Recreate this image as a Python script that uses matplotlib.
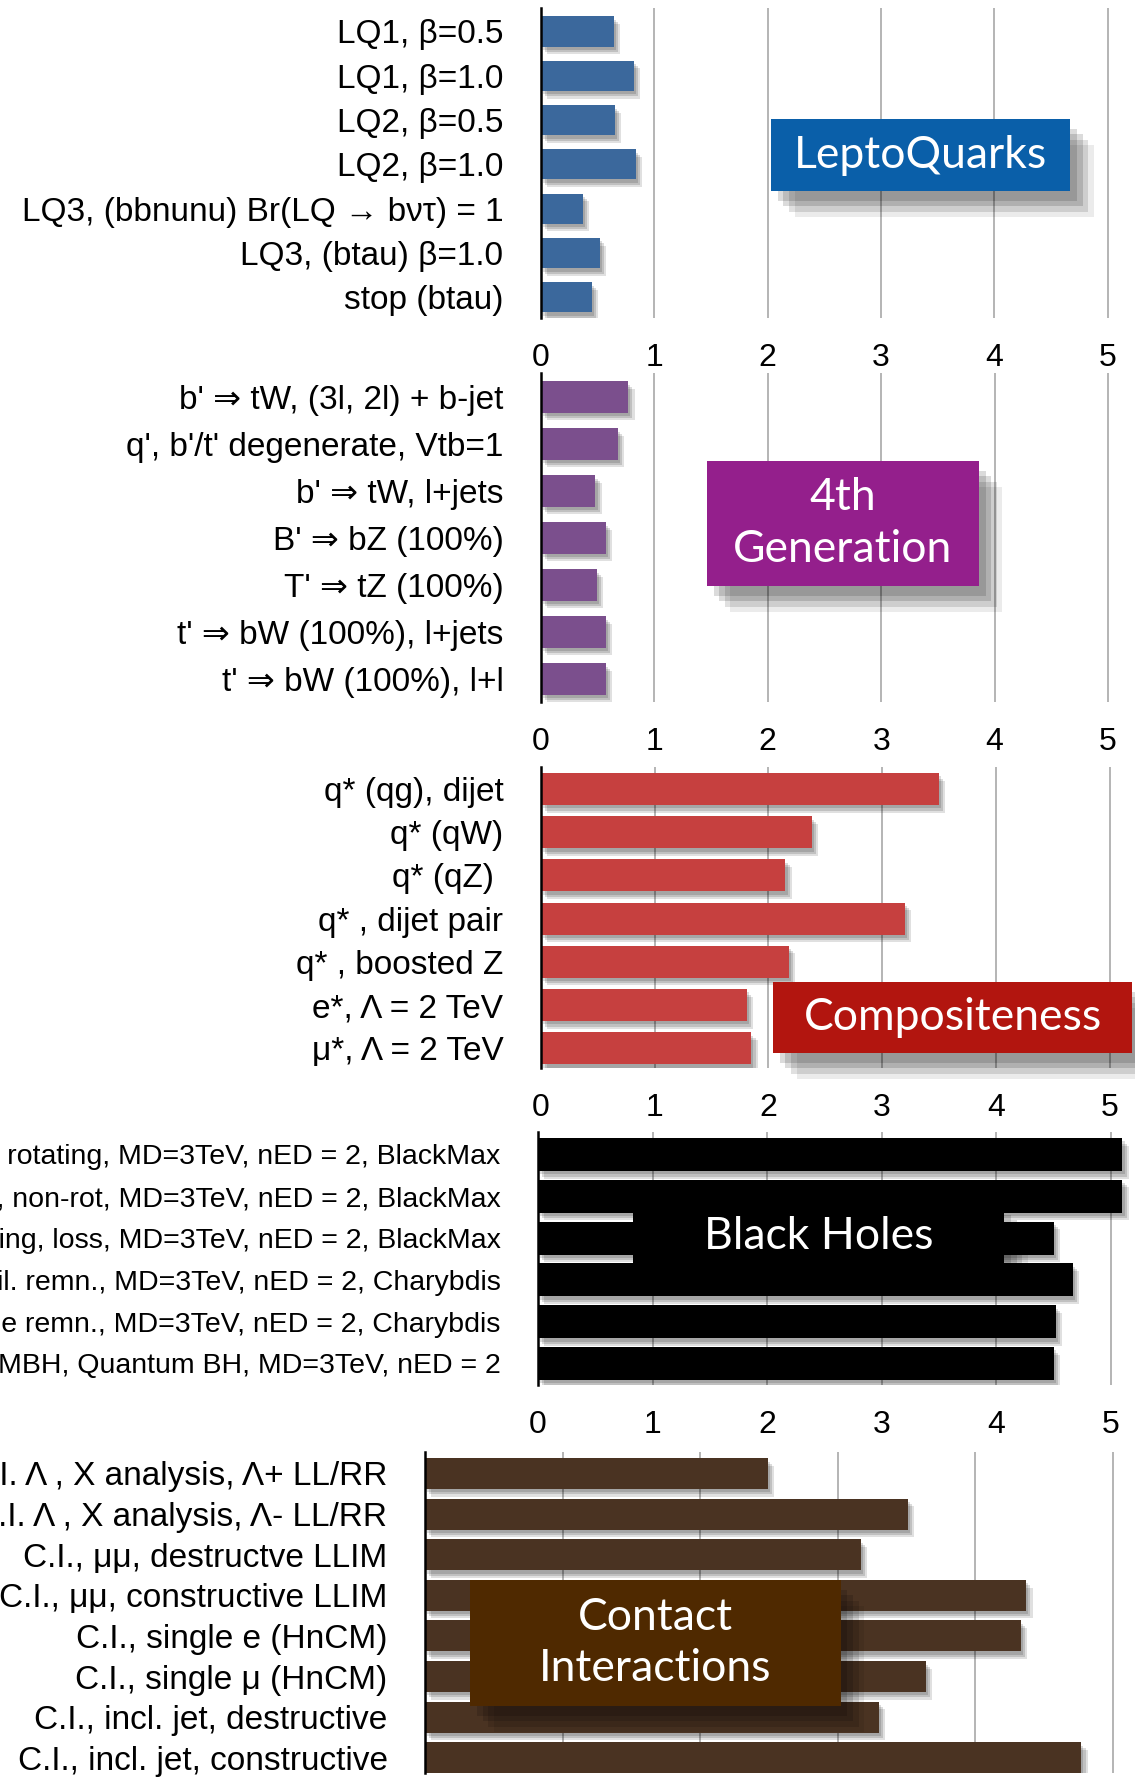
import matplotlib
matplotlib.use("Agg")
import matplotlib.pyplot as plt
import matplotlib.patheffects as pe
from matplotlib.patches import Rectangle

plt.rcParams["font.family"] = ["Liberation Sans", "DejaVu Sans"]

# ---- data (limits in TeV) ----
lq_labels = ["LQ1, β=0.5", "LQ1, β=1.0", "LQ2, β=0.5", "LQ2, β=1.0",
             "LQ3, (bbnunu) Br(LQ → bντ) = 1", "LQ3, (btau) β=1.0", "stop (btau)"]
lq_values = [0.64, 0.82, 0.65, 0.84, 0.37, 0.52, 0.45]

g4_labels = ["b' ⇒ tW, (3l, 2l) + b-jet", "q', b'/t' degenerate, Vtb=1", "b' ⇒ tW, l+jets",
             "B' ⇒ bZ (100%)", "T' ⇒ tZ (100%)", "t' ⇒ bW (100%), l+jets", "t' ⇒ bW (100%), l+l"]
g4_values = [0.77, 0.68, 0.48, 0.57, 0.49, 0.57, 0.57]

cp_labels = ["q* (qg), dijet", "q* (qW)", "q* (qZ) ", "q* , dijet pair", "q* , boosted Z",
             "e*, Λ = 2 TeV", "μ*, Λ = 2 TeV"]
cp_values = [3.50, 2.38, 2.15, 3.20, 2.18, 1.81, 1.85]

bh_labels = ["MBH, rotating, MD=3TeV, nED = 2, BlackMax", "MBH, non-rot, MD=3TeV, nED = 2, BlackMax",
             "MBH, boiling, loss, MD=3TeV, nED = 2, BlackMax", "MBH, boil. remn., MD=3TeV, nED = 2, Charybdis",
             "MBH, stable remn., MD=3TeV, nED = 2, Charybdis", "MBH, Quantum BH, MD=3TeV, nED = 2"]
bh_values = [5.10, 5.10, 4.50, 4.67, 4.52, 4.50]

ci_labels = ["C.I. Λ , X analysis, Λ+ LL/RR", "C.I. Λ , X analysis, Λ- LL/RR", "C.I., μμ, destructve LLIM",
             "C.I., μμ, constructive LLIM", "C.I., single e (HnCM)", "C.I., single μ (HnCM)",
             "C.I., incl. jet, destructive", "C.I., incl. jet, constructive"]
ci_values = [2.49, 3.51, 3.17, 4.37, 4.33, 3.64, 3.30, 4.77]

W, H = 1135, 1782
fig = plt.figure(figsize=(W / 100, H / 100), dpi=100)
fig.patch.set_facecolor("white")

bar_fx = [pe.SimplePatchShadow(offset=(1.5, -2.5), shadow_rgbFace="k", alpha=0.14),
          pe.SimplePatchShadow(offset=(3, -4), shadow_rgbFace="k", alpha=0.14),
          pe.SimplePatchShadow(offset=(4.5, -5.5), shadow_rgbFace="k", alpha=0.12),
          pe.Normal()]
box_fx = [pe.SimplePatchShadow(offset=(5, -7), shadow_rgbFace="k", alpha=0.14),
          pe.SimplePatchShadow(offset=(9, -11), shadow_rgbFace="k", alpha=0.14),
          pe.SimplePatchShadow(offset=(13, -15), shadow_rgbFace="k", alpha=0.12),
          pe.SimplePatchShadow(offset=(17, -19), shadow_rgbFace="k", alpha=0.08),
          pe.Normal()]


def panel(labels, values, bar_color, x0, unit, top, bottom, c0, dy, bar_h,
          label_size=24, show_ticks=True):
    n = len(labels)
    xmax = (W + 5 - x0) / unit
    ax = fig.add_axes([x0 / W, 1 - bottom / H, xmax * unit / W, (bottom - top) / H])
    gt = (c0 - top) / dy
    gb = (bottom - (c0 + (n - 1) * dy)) / dy
    bars = ax.barh(range(n), values, height=bar_h, color=bar_color, zorder=2)
    for b in bars:
        b.set_path_effects(bar_fx)
    ax.set_xlim(0, xmax)
    ax.set_ylim(n - 1 + gb, -gt)
    ax.set_yticks(range(n))
    ax.set_yticklabels(labels, fontsize=label_size)
    ax.set_xticks(range(6))
    for v in range(1, 6):
        ax.axvline(v, color="#a0a0a0", lw=1.1, zorder=0)
    ax.tick_params(axis="y", length=0, pad=27)
    ax.tick_params(axis="x", length=0, pad=18, labelsize=23, labelbottom=show_ticks)
    for s in ["top", "right", "bottom"]:
        ax.spines[s].set_visible(False)
    ax.spines["left"].set_linewidth(1.8)
    ax.spines["left"].set_zorder(3)
    ax.set_facecolor("none")
    return ax


def tag(ax, text, x0, x1, y0, y1, color, size=32):
    r = Rectangle((x0, y0), x1 - x0, y1 - y0, facecolor=color, edgecolor="none",
                  zorder=5, clip_on=False)
    r.set_path_effects(box_fx)
    ax.add_patch(r)
    ax.text((x0 + x1) / 2, (y0 + y1) / 2, text, color="white", fontsize=size,
            ha="center", va="center", zorder=6, linespacing=1.32,
            family=["Lato", "DejaVu Sans"])


# ---- LeptoQuarks ----
ax1 = panel(lq_labels, lq_values, "#3B689C", 541, 113.3, 8, 318, 31.5, 44.3, 0.68)
tag(ax1, "LeptoQuarks", 2.03, 4.67, (119 - 31.5) / 44.3, (191 - 31.5) / 44.3, "#0A5FA9")

# ---- 4th Generation ----
ax2 = panel(g4_labels, g4_values, "#7B4F8D", 541, 113.4, 373, 702, 397, 47, 0.66)
tag(ax2, "4th\nGeneration", 1.46, 3.86, (461 - 397) / 47, (586 - 397) / 47, "#941F8C")

# ---- Compositeness ----
ax3 = panel(cp_labels, cp_values, "#C6403F", 541, 113.7, 767, 1068, 789, 43.2, 0.74)
tag(ax3, "Compositeness", 2.04, 5.2, (982 - 789) / 43.2, (1053 - 789) / 43.2, "#B2150F")

# ---- Black Holes ----
ax4 = panel(bh_labels, bh_values, "#000000", 538, 114.6, 1132, 1385, 1154.5, 41.8, 0.79,
            label_size=20.5)
tag(ax4, "Black Holes", 0.83, 4.07, (1205 - 1154.5) / 41.8, (1268 - 1154.5) / 41.8, "#000000")

# ---- Contact Interactions ----
ax5 = panel(ci_labels, ci_values, "#4A3322", 425, 137.6, 1452, 1773, 1473.5, 40.6, 0.76,
            show_ticks=False)
tag(ax5, "Contact\nInteractions", 0.33, 3.02, (1580 - 1473.5) / 40.6, (1706 - 1473.5) / 40.6,
    "#4F2900")

fig.savefig("out.png", dpi=100)
